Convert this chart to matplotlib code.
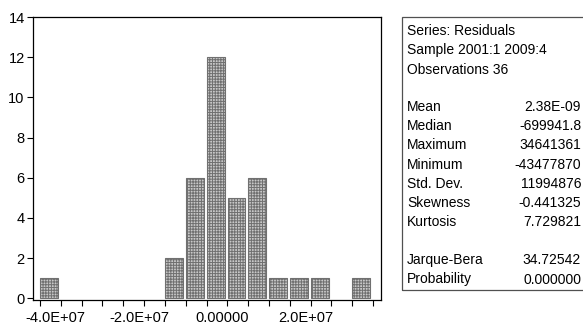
import numpy as np
import matplotlib.pyplot as plt
from matplotlib.patches import Rectangle
from matplotlib.transforms import ScaledTranslation

plt.rcParams['font.family'] = ['Liberation Sans', 'DejaVu Sans']
plt.rcParams['hatch.color'] = '#7a7a7a'
plt.rcParams['hatch.linewidth'] = 0.7

# histogram of residuals, bins of 5E+06
bin_left = np.arange(-45e6, 35e6, 5e6)
counts = np.array([1, 0, 0, 0, 0, 0, 2, 6, 12, 5, 6, 1, 1, 1, 0, 1])
bw = 5e6

y_ticks = [0, 2, 4, 6, 8, 10, 12, 14]
x_ticks = np.arange(-45e6, 36e6, 5e6)
x_labels = {-4e7: '-4.0E+07', -2e7: '-2.0E+07', 0: '0.00000', 2e7: '2.0E+07'}

stat_names = ['Mean', 'Median', 'Maximum', 'Minimum', 'Std. Dev.', 'Skewness', 'Kurtosis']
stat_values = ['2.38E-09', '-699941.8', '34641361', '-43477870', '11994876', '-0.441325', '7.729821']
jb_names = ['Jarque-Bera', 'Probability']
jb_values = ['34.72542', '0.000000']
header = ['Series: Residuals', 'Sample 2001:1 2009:4', 'Observations 36']

W, H = 583, 327
fig = plt.figure(figsize=(W / 100, H / 100), dpi=100)
ax = fig.add_axes([33 / W, 1 - 300 / H, (381 - 33) / W, (300 - 17) / H])

nz = counts > 0
ax.bar(bin_left[nz] + 0.01 * bw, counts[nz], width=0.86 * bw, align='edge',
       facecolor='#c8c8c8', edgecolor='#707070', linewidth=0.8, hatch='++++++')

ax.set_xlim(-4.669e7, 3.693e7)
ax.set_ylim(-0.08, 14)
ax.set_yticks(y_ticks)
ax.set_xticks(x_ticks)
ax.set_xticklabels([x_labels.get(round(v), '') for v in x_ticks])
ax.tick_params(direction='out', length=4, width=0.8, labelsize=10.5, pad=2)
ax.tick_params(axis='x', pad=4)
for s in ax.spines.values():
    s.set_linewidth(0.9)

off = ScaledTranslation(-5 / 100, 0, fig.dpi_scale_trans)
for lab in ax.get_xticklabels():
    lab.set_transform(lab.get_transform() + off)

# stats box
fig.patches.append(Rectangle((402 / W, 1 - 290 / H), 190 / W, 273 / H,
                             transform=fig.transFigure, fill=False,
                             edgecolor='#505050', linewidth=0.9))

def put(x, y, s, ha='left'):
    fig.text(x / W, 1 - y / H, s, ha=ha, va='center', fontsize=10)

for i, s in enumerate(header):
    put(407, 31 + 19.3 * i, s)
for i, (n, v) in enumerate(zip(stat_names, stat_values)):
    put(407, 107 + 19.2 * i, n)
    put(581, 107 + 19.2 * i, v, ha='right')
for i, (n, v) in enumerate(zip(jb_names, jb_values)):
    put(407, 260 + 19.5 * i, n)
    put(581, 260 + 19.5 * i, v, ha='right')

fig.savefig('out.png', dpi=100)
